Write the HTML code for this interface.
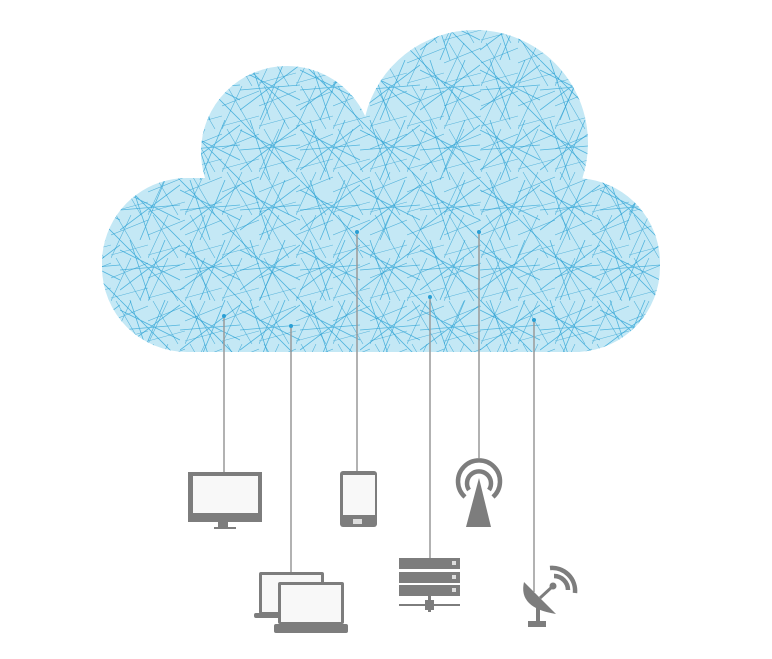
<!DOCTYPE html>
<html><head><style>body{margin:0;background:#fff}svg{display:block}</style></head><body>
<svg width="772" height="659" viewBox="0 0 772 659" xmlns="http://www.w3.org/2000/svg">
<defs>
<clipPath id="c">
<circle cx="180" cy="262" r="78"/><circle cx="287" cy="152" r="86"/><circle cx="475" cy="143" r="113"/><circle cx="588" cy="262" r="72"/>
<rect x="102" y="178" width="558" height="174" rx="85" ry="85"/>
<rect x="230" y="190" width="350" height="162"/>
</clipPath>
<pattern id="p" width="60" height="60" patternUnits="userSpaceOnUse">
<path d="M0 10L60 40M10 0L30 60M0 50L60 5M45 0L20 60M0 30L60 25M0 0L60 60" stroke="#2aa3d6" stroke-width="0.8" opacity="0.75"/>
</pattern>
<pattern id="q" width="37" height="43" patternUnits="userSpaceOnUse">
<path d="M0 20L37 5M5 0L30 43M0 40L37 30M20 0L0 43" stroke="#1a96cc" stroke-width="0.6" opacity="0.65"/>
</pattern>
</defs>
<g clip-path="url(#c)">
<rect width="772" height="400" fill="#c4e8f5"/>
<rect width="772" height="400" fill="url(#p)"/>
<rect width="772" height="400" fill="url(#q)"/>
</g>
<g stroke="#999" stroke-width="1.5">
<line x1="224" y1="316" x2="224" y2="472"/><line x1="291" y1="326" x2="291" y2="573"/>
<line x1="357" y1="232" x2="357" y2="472"/><line x1="430" y1="297" x2="430" y2="558"/>
<line x1="479" y1="232" x2="479" y2="458"/><line x1="534" y1="320" x2="534" y2="592"/>
</g>
<g fill="#2a9fd4"><circle cx="224" cy="316" r="2"/><circle cx="291" cy="326" r="2"/><circle cx="357" cy="232" r="2"/><circle cx="430" cy="297" r="2"/><circle cx="479" cy="232" r="2"/><circle cx="534" cy="320" r="2"/></g>
<g fill="#7d7d7d">
<rect x="188" y="472" width="74" height="50"/><rect x="193" y="476" width="65" height="37" fill="#f8f8f8"/>
<rect x="218" y="522" width="10" height="6"/><rect x="214" y="527" width="22" height="2"/>
<rect x="340" y="471" width="37" height="56" rx="3"/><rect x="343" y="475" width="32" height="40" fill="#f8f8f8"/><rect x="353" y="519" width="9" height="5" fill="#ddd"/>
<path d="M479 478L466 527H491Z"/>
<rect x="259" y="572" width="65" height="42" rx="2"/><rect x="262" y="575" width="59" height="37" fill="#f8f8f8"/><rect x="254" y="613" width="70" height="5" rx="2"/>
<rect x="278" y="582" width="66" height="42" rx="2"/><rect x="281" y="585" width="60" height="37" fill="#f8f8f8"/><rect x="274" y="624" width="74" height="9" rx="2"/>
<rect x="399" y="558" width="61" height="11"/><rect x="399" y="572" width="61" height="11"/><rect x="399" y="585" width="61" height="11"/>
<rect x="399" y="604" width="61" height="2"/><rect x="425" y="600" width="9" height="10"/><rect x="428" y="596" width="3" height="16"/>
<path d="M524 582Q518 608 556 614Z"/><rect x="536" y="605" width="4" height="17"/><rect x="528" y="621" width="18" height="6"/>
<line x1="540" y1="598" x2="553" y2="586" stroke="#7d7d7d" stroke-width="3"/><circle cx="553" cy="586" r="3.5"/>
</g>
<g fill="#ddd"><rect x="452" y="561" width="4" height="4"/><rect x="452" y="575" width="4" height="4"/><rect x="452" y="588" width="4" height="4"/></g>
<g fill="none" stroke="#7d7d7d" stroke-width="4.5">
<path d="M465 497A21 21 0 1 1 493 497"/><path d="M469 490A12 12 0 1 1 489 490"/>
<path d="M554 576A14 14 0 0 1 568 590"/><path d="M550 568A23 23 0 0 1 575 593"/>
</g>
</svg>
</body></html>
